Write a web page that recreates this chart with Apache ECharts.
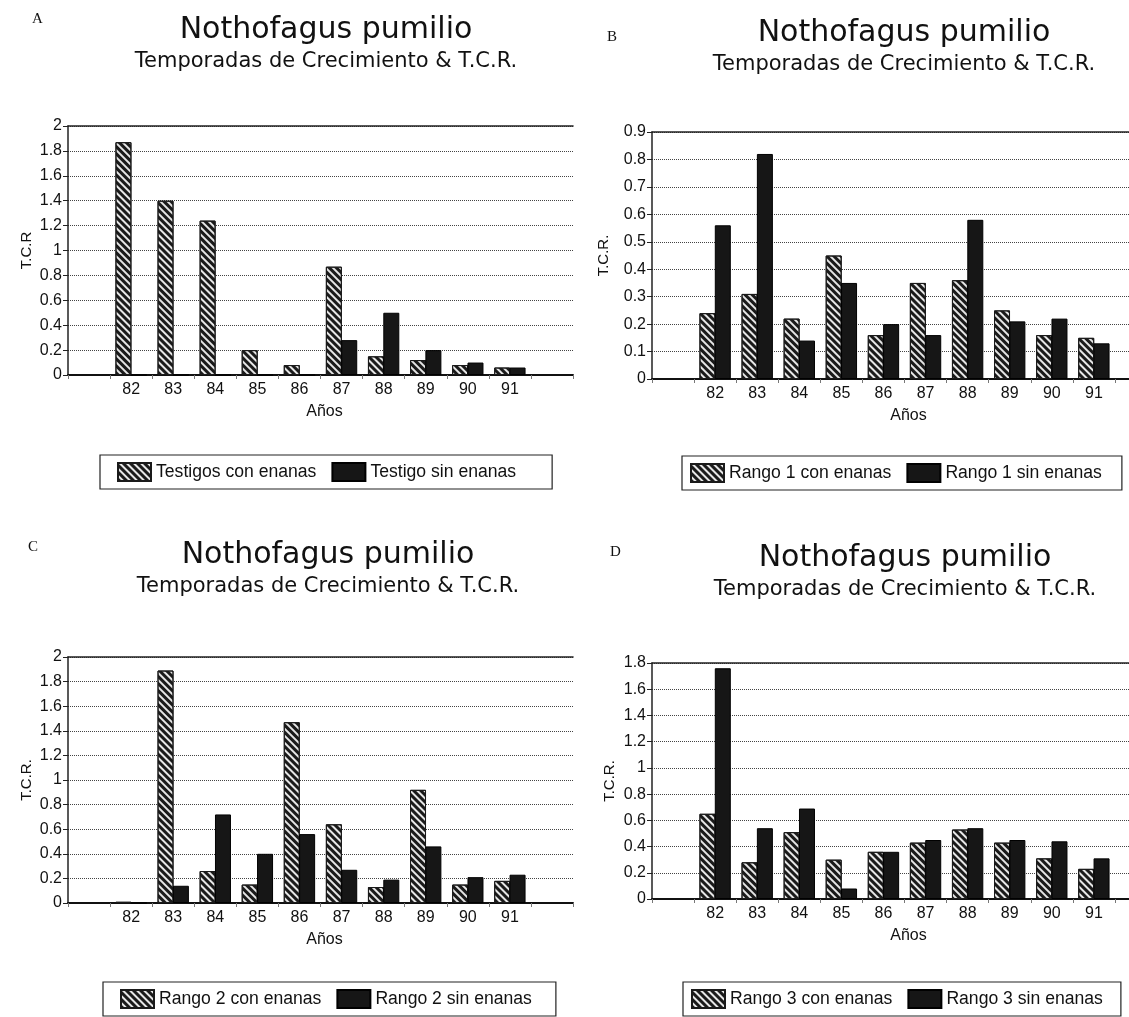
<!DOCTYPE html>
<html>
<head>
<meta charset="utf-8">
<script src="https://cdn.jsdelivr.net/npm/echarts@6/dist/echarts.min.js"></script>
<style>
html,body{margin:0;padding:0;background:#fff;overflow:hidden;}
#c{width:1129px;height:1017px;}
</style>
</head>
<body>
<div id="c"></div>
<script>
// Years (category labels); an empty slot on each side as in the original
const years = ['82','83','84','85','86','87','88','89','90','91'];

// A: Testigos
const testigoConEnanas = [1.87, 1.40, 1.24, 0.20, 0.08, 0.87, 0.15, 0.12, 0.08, 0.06];
const testigoSinEnanas = [0, 0, 0, 0, 0, 0.28, 0.50, 0.20, 0.10, 0.06];
// B: Rango 1
const rango1ConEnanas = [0.24, 0.31, 0.22, 0.45, 0.16, 0.35, 0.36, 0.25, 0.16, 0.15];
const rango1SinEnanas = [0.56, 0.82, 0.14, 0.35, 0.20, 0.16, 0.58, 0.21, 0.22, 0.13];
// C: Rango 2
const rango2ConEnanas = [0.01, 1.89, 0.26, 0.15, 1.47, 0.64, 0.13, 0.92, 0.15, 0.18];
const rango2SinEnanas = [0, 0.14, 0.72, 0.40, 0.56, 0.27, 0.19, 0.46, 0.21, 0.23];
// D: Rango 3
const rango3ConEnanas = [0.65, 0.28, 0.51, 0.30, 0.36, 0.43, 0.53, 0.43, 0.31, 0.23];
const rango3SinEnanas = [1.76, 0.54, 0.69, 0.08, 0.36, 0.45, 0.54, 0.45, 0.44, 0.31];

const panelLetters = ['A', 'B', 'C', 'D'];
const mainTitle = 'Nothofagus pumilio';
const subTitle = 'Temporadas de Crecimiento & T.C.R.';
const yAxisNames = ['T.C.R', 'T.C.R.', 'T.C.R.', 'T.C.R.'];
const xAxisName = 'Años';
const yMax = [2, 0.9, 2, 1.8];
const yStep = [0.2, 0.1, 0.2, 0.2];
const seriesNames = [
  ['Testigos con enanas', 'Testigo sin enanas'],
  ['Rango 1 con enanas', 'Rango 1 sin enanas'],
  ['Rango 2 con enanas', 'Rango 2 sin enanas'],
  ['Rango 3 con enanas', 'Rango 3 sin enanas']
];
const seriesValues = [
  [testigoConEnanas, testigoSinEnanas],
  [rango1ConEnanas, rango1SinEnanas],
  [rango2ConEnanas, rango2SinEnanas],
  [rango3ConEnanas, rango3SinEnanas]
];

const cats = [''].concat(years, ['']);
const pad = v => [null].concat(v, [null]);

// layout
const grids = [
  {left: 68, top: 126, width: 505, height: 249},
  {left: 652, top: 132, width: 505, height: 247},
  {left: 68, top: 657, width: 505, height: 246},
  {left: 652, top: 663, width: 505, height: 236}
];
const titlePos = [[326, 14], [904, 17], [328, 539], [905, 542]];
const letterPos = [[37, 20], [612, 38], [33, 548], [615, 553]];
const yNameGap = [34, 41, 34, 35];
const legendPos = [
  {left: 100, top: 455, padding: [7, 36, 7, 17]},
  {left: 682, top: 456, padding: [7, 20, 7, 8]},
  {left: 103, top: 982, padding: [7, 24, 7, 17]},
  {left: 683, top: 982, padding: [7, 18, 7, 8]}
];

const font = 'Liberation Sans, Arial, Helvetica, sans-serif';
const tfont = 'DejaVu Sans, sans-serif';
const ink = '#111';

const hatch = {
  symbol: 'rect', symbolSize: 1, color: '#1a1a1a',
  dashArrayX: [1, 0], dashArrayY: [3, 2], rotation: Math.PI / 4
};

const option = {
  backgroundColor: '#fff',
  animation: false,
  title: titlePos.map(p => ({
    text: mainTitle, subtext: subTitle,
    left: p[0], top: p[1], textAlign: 'center', padding: 0, itemGap: 5,
    textStyle: {fontFamily: tfont, fontWeight: 'normal', fontSize: 30, lineHeight: 32, color: ink},
    subtextStyle: {fontFamily: tfont, fontSize: 21, lineHeight: 22, color: ink}
  })),
  graphic: letterPos.map((p, i) => ({
    type: 'text', left: p[0] - 5, top: p[1] - 8,
    style: {text: panelLetters[i], font: '15px "Liberation Serif", serif', fill: ink}
  })),
  legend: legendPos.map((l, i) => ({
    left: l.left, top: l.top, padding: l.padding, orient: 'horizontal',
    data: seriesNames[i], icon: 'rect', itemWidth: 33, itemHeight: 18, itemGap: 15,
    borderColor: '#222', borderWidth: 1.2,
    textStyle: {fontFamily: font, fontSize: 17.6, color: ink},
    selectedMode: false
  })),
  grid: grids.map(g => Object.assign({containLabel: false, outerBoundsMode: 'none'}, g)),
  xAxis: grids.map((g, i) => ({
    type: 'category', gridIndex: i, data: cats, position: 'bottom',
    name: xAxisName, nameLocation: 'middle', nameGap: 29,
    nameTextStyle: {fontFamily: font, fontSize: 16, color: ink, padding: [0, 0, 0, 8]},
    axisLine: {lineStyle: {color: ink, width: 2}},
    axisTick: {show: true, length: 4, lineStyle: {color: '#777'}},
    axisLabel: {fontFamily: font, fontSize: 16, color: ink, margin: 7, interval: 0}
  })).concat(grids.map((g, i) => ({
    type: 'category', gridIndex: i, data: cats, position: 'top',
    axisLine: {lineStyle: {color: '#222', width: 1.6}},
    axisTick: {show: false}, axisLabel: {show: false}, splitLine: {show: false}
  }))),
  yAxis: grids.map((g, i) => ({
    type: 'value', gridIndex: i, min: 0, max: yMax[i], interval: yStep[i],
    name: yAxisNames[i], nameLocation: 'middle', nameGap: yNameGap[i],
    nameTextStyle: {fontFamily: font, fontSize: 15, color: ink},
    axisLine: {show: true, lineStyle: {color: '#222', width: 1.5}},
    axisTick: {show: true, length: 5, lineStyle: {color: '#222'}},
    axisLabel: {fontFamily: font, fontSize: 16, color: ink, margin: 6},
    splitLine: {show: true, lineStyle: {color: '#444', type: 'dotted', width: 1}}
  })),
  series: []
};

seriesValues.forEach((pair, i) => {
  option.series.push({
    type: 'bar', name: seriesNames[i][0], xAxisIndex: i, yAxisIndex: i,
    data: pad(pair[0]), barWidth: 16, barGap: '-4%',
    itemStyle: {color: '#e6e6e6', borderColor: '#1a1a1a', borderWidth: 1, decal: hatch}
  });
  option.series.push({
    type: 'bar', name: seriesNames[i][1], xAxisIndex: i, yAxisIndex: i,
    data: pad(pair[1]), barWidth: 16, barGap: '-4%',
    itemStyle: {color: '#161616', borderColor: '#000', borderWidth: 1}
  });
});

const chart = echarts.init(document.getElementById('c'), null, {renderer: 'canvas'});
chart.setOption(option);
</script>
</body>
</html>
